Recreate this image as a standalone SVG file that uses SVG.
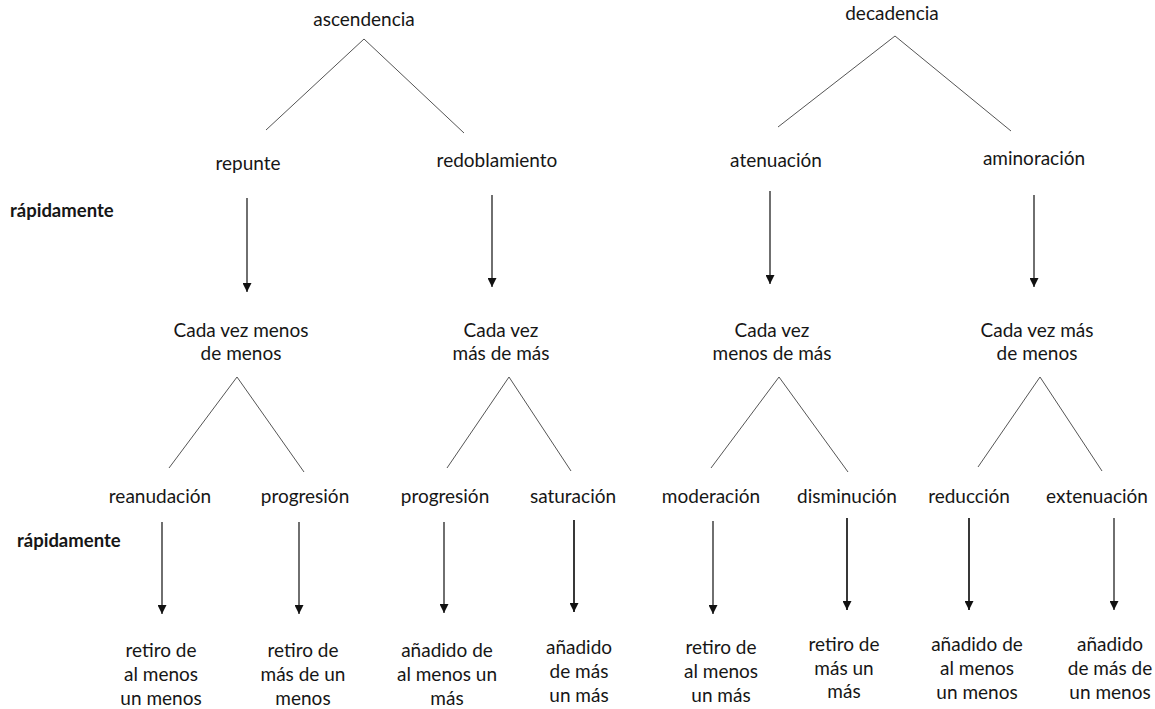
<svg xmlns="http://www.w3.org/2000/svg" width="1155" height="709" viewBox="0 0 1155 709">
<style>
  text { font-family: Lato, "Open Sans", "Liberation Sans", sans-serif; font-size: 19px; fill: #161616; text-anchor: middle; }
  text.side { font-weight: bold; font-size: 18.5px; text-anchor: start; }
  .tree { stroke: #555; stroke-width: 1; fill: none; }
  .arr { stroke: #222; stroke-width: 1.3; fill: none; marker-end: url(#ah); }
  .arr.thick { stroke-width: 1.8; }
</style>
<defs>
  <marker id="ah" viewBox="0 0 10 10" refX="10" refY="5" markerWidth="10" markerHeight="9" markerUnits="userSpaceOnUse" orient="auto">
    <path d="M0,0 L10,5 L0,10 z" fill="#111"/>
  </marker>
</defs>
<rect width="1155" height="709" fill="#fff"/>

<g id="connectors">
  <polyline class="tree" points="266,130 364,39 464,133"/>
  <polyline class="tree" points="778,127 895,36 1011,131"/>
  <polyline class="tree" points="169,468 237,377 304,472"/>
  <polyline class="tree" points="447,468 509,377 571,471"/>
  <polyline class="tree" points="711,468 779,377 848,472"/>
  <polyline class="tree" points="978,467 1040,377 1102,471"/>
  <line class="arr" x1="247" y1="198" x2="247" y2="292"/>
  <line class="arr" x1="492" y1="195" x2="492" y2="287"/>
  <line class="arr" x1="770" y1="191" x2="770" y2="284"/>
  <line class="arr" x1="1034" y1="195" x2="1034" y2="287"/>
  <line class="arr" x1="162" y1="522" x2="162" y2="614"/>
  <line class="arr" x1="299" y1="522" x2="299" y2="614"/>
  <line class="arr" x1="444" y1="522" x2="444" y2="613"/>
  <line class="arr thick" x1="574" y1="520" x2="574" y2="612"/>
  <line class="arr" x1="713" y1="521" x2="713" y2="614"/>
  <line class="arr thick" x1="847" y1="518" x2="847" y2="610"/>
  <line class="arr thick" x1="969" y1="518" x2="969" y2="610"/>
  <line class="arr" x1="1114" y1="518" x2="1114" y2="610"/>
</g>

<g id="label-rapidamente-1"><text class="side" x="10" y="217">rápidamente</text></g>
<g id="label-rapidamente-2"><text class="side" x="17" y="547">rápidamente</text></g>

<g id="n-ascendencia"><text x="364" y="26">ascendencia</text></g>
<g id="n-decadencia"><text x="892" y="20">decadencia</text></g>

<g id="n-repunte"><text x="248" y="170">repunte</text></g>
<g id="n-redoblamiento"><text x="497" y="167">redoblamiento</text></g>
<g id="n-atenuacion"><text x="776" y="167">atenuación</text></g>
<g id="n-aminoracion"><text x="1034" y="165">aminoración</text></g>

<g id="n-menos-de-menos"><text x="241" y="337">Cada vez menos</text><text x="241" y="360">de menos</text></g>
<g id="n-mas-de-mas"><text x="501" y="337">Cada vez</text><text x="501" y="360">más de más</text></g>
<g id="n-menos-de-mas"><text x="772" y="337">Cada vez</text><text x="772" y="360">menos de más</text></g>
<g id="n-mas-de-menos"><text x="1037" y="337">Cada vez más</text><text x="1037" y="360">de menos</text></g>

<g id="n-reanudacion"><text x="160" y="503">reanudación</text></g>
<g id="n-progresion-1"><text x="305" y="503">progresión</text></g>
<g id="n-progresion-2"><text x="445" y="503">progresión</text></g>
<g id="n-saturacion"><text x="573" y="503">saturación</text></g>
<g id="n-moderacion"><text x="711" y="503">moderación</text></g>
<g id="n-disminucion"><text x="847" y="503">disminución</text></g>
<g id="n-reduccion"><text x="969" y="503">reducción</text></g>
<g id="n-extenuacion"><text x="1097" y="503">extenuación</text></g>

<g id="r-1"><text x="161" y="657">retiro de</text><text x="161" y="681">al menos</text><text x="161" y="705">un menos</text></g>
<g id="r-2"><text x="303" y="657">retiro de</text><text x="303" y="681">más de un</text><text x="303" y="705">menos</text></g>
<g id="r-3"><text x="447" y="657">añadido de</text><text x="447" y="681">al menos un</text><text x="447" y="705">más</text></g>
<g id="r-4"><text x="579" y="654">añadido</text><text x="579" y="678">de más</text><text x="579" y="702">un más</text></g>
<g id="r-5"><text x="721" y="654">retiro de</text><text x="721" y="678">al menos</text><text x="721" y="702">un más</text></g>
<g id="r-6"><text x="844" y="651">retiro de</text><text x="844" y="675">más un</text><text x="844" y="698">más</text></g>
<g id="r-7"><text x="977" y="651">añadido de</text><text x="977" y="675">al menos</text><text x="977" y="699">un menos</text></g>
<g id="r-8"><text x="1110" y="651">añadido</text><text x="1110" y="675">de más de</text><text x="1110" y="699">un menos</text></g>
</svg>
